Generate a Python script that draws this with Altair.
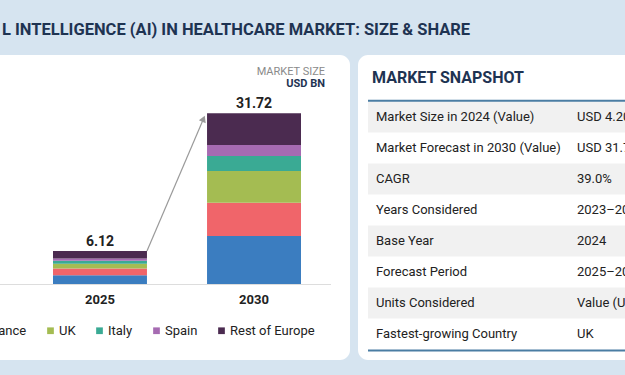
import altair as alt
import pandas as pd

# ---------------- data ----------------
years = ["2025", "2030"]
regions = ["Germany", "France", "UK", "Italy", "Spain", "Rest of Europe"]
values_2025 = [1.64, 1.25, 0.88, 0.56, 0.43, 1.36]
values_2030 = [8.92, 6.19, 5.89, 2.79, 2.04, 5.89]
totals = [6.12, 31.72]
total_labels = ["6.12", "31.72"]
colors = ["#3b7dc0", "#f0656a", "#a4bc52", "#3aaa94", "#a66bb2", "#4b2b50"]

snap_labels = [
    "Market Size in 2024 (Value)",
    "Market Forecast in 2030 (Value)",
    "CAGR",
    "Years Considered",
    "Base Year",
    "Forecast Period",
    "Units Considered",
    "Fastest-growing Country",
]
snap_values = [
    "USD 4.20 BN",
    "USD 31.72 BN",
    "39.0%",
    "2023\u20132030",
    "2024",
    "2025\u20132030",
    "Value (USD Billion)",
    "UK",
]

title_text = "L INTELLIGENCE (AI) IN HEALTHCARE MARKET: SIZE & SHARE"

# ---------------- tables ----------------
rows = []
for yi, vals in zip(years, [values_2025, values_2030]):
    for i, (r, v) in enumerate(zip(regions, vals)):
        rows.append({"year": yi, "region": r, "value": v, "idx": i})
bars_df = pd.DataFrame(rows)
tot_df = pd.DataFrame({"year": years, "total": totals, "label": total_labels})
arrow_df = pd.DataFrame({"from": [years[0]], "to": [years[1]], "v1": [totals[0]], "v2": [30.7]})
snap_df = pd.DataFrame({"label": snap_labels, "value": snap_values,
                        "shade": [i % 2 == 0 for i in range(len(snap_labels))]})
one = pd.DataFrame({"k": [0]})

FONT = "Roboto"
xs = alt.Scale(domain=years, range=[53, 301], paddingInner=0.39, paddingOuter=0)
ys = alt.Scale(domain=[0, 31.72], range=[284, 113.3])


def txt(text, x, y, size, weight="normal", color="#222222", align="left"):
    return alt.Chart(one).mark_text(
        text=text, align=align, baseline="middle", fontSize=size,
        fontWeight=weight, color=color, font=FONT
    ).encode(x=alt.value(x), y=alt.value(y))


def box(x, x2, y, y2, color, radius=0):
    return alt.Chart(one).mark_rect(color=color, cornerRadius=radius).encode(
        x=alt.value(x), x2=alt.value(x2), y=alt.value(y), y2=alt.value(y2))


def hline(x, x2, y, color, width):
    return alt.Chart(one).mark_rule(color=color, strokeWidth=width).encode(
        x=alt.value(x), x2=alt.value(x2), y=alt.value(y))


# ---------------- decorations ----------------
deco = alt.layer(
    box(-20, 350, 55, 360, "white", 10),
    box(358, 660, 55, 360, "white", 10),
    txt(title_text, 2, 30, 16.5, "bold", "#1e3352"),
    txt("MARKET SIZE", 325, 71.5, 11, "normal", "#8a8a8a", "right"),
    txt("USD BN", 325, 84, 11, "bold", "#1e3352", "right"),
    txt("MARKET SNAPSHOT", 372, 77.5, 16, "bold", "#1e3352"),
    hline(0, 331, 284.5, "#dddddd", 1),
)

# ---------------- bar chart ----------------
bars = alt.Chart(bars_df).mark_bar().encode(
    x=alt.X("year:N", scale=xs, axis=None),
    y=alt.Y("value:Q", scale=ys, axis=None, stack="zero"),
    order=alt.Order("idx:Q", sort="ascending"),
    color=alt.Color(
        "region:N",
        scale=alt.Scale(domain=regions, range=colors),
        legend=alt.Legend(
            orient="none", legendX=-112, legendY=324, direction="horizontal",
            title=None, symbolType="square", symbolSize=45, symbolStrokeWidth=0,
            labelFont=FONT, labelFontSize=13, labelColor="#222222",
            labelOffset=2, columnPadding=17, columns=6,
        ),
    ),
)

tot_text = alt.Chart(tot_df).mark_text(
    dy=-9, fontSize=14, fontWeight="bold", font=FONT, color="#222222", baseline="middle"
).encode(
    x=alt.X("year:N", scale=xs, axis=None),
    y=alt.Y("total:Q", scale=ys, axis=None),
    text="label:N",
)

year_text = alt.Chart(tot_df).mark_text(
    fontSize=13, fontWeight="bold", font=FONT, color="#222222", baseline="middle"
).encode(
    x=alt.X("year:N", scale=xs, axis=None),
    y=alt.value(300),
    text="year:N",
)

arrow_rule = alt.Chart(arrow_df).mark_rule(
    color="#9a9a9a", strokeWidth=1.2, x2Offset=-3.5
).encode(
    x=alt.X("from:N", scale=xs, axis=None, bandPosition=1),
    x2=alt.X2("to:N", bandPosition=0),
    y=alt.Y("v1:Q", scale=ys, axis=None),
    y2="v2:Q",
)

arrow_head = alt.Chart(arrow_df).mark_point(
    shape="triangle-up", filled=True, color="#9a9a9a", size=55, angle=23, opacity=1,
    xOffset=-3.5
).encode(
    x=alt.X("to:N", scale=xs, axis=None, bandPosition=0),
    y=alt.Y("v2:Q", scale=ys, axis=None),
)

bar_group = alt.layer(bars, tot_text, year_text, arrow_rule, arrow_head)

# ---------------- snapshot table ----------------
ty = alt.Scale(domain=snap_labels, range=[101.5, 349.5], paddingInner=0, paddingOuter=0)

shade = alt.Chart(snap_df).mark_rect(color="#f1f1f1").transform_filter(
    "datum.shade"
).encode(
    y=alt.Y("label:N", scale=ty, axis=None, sort=None),
    x=alt.value(368), x2=alt.value(660),
)
lab = alt.Chart(snap_df).mark_text(
    align="left", baseline="middle", fontSize=13, font=FONT, color="#222222"
).encode(
    y=alt.Y("label:N", scale=ty, axis=None, sort=None),
    x=alt.value(376), text="label:N",
)
val = alt.Chart(snap_df).mark_text(
    align="left", baseline="middle", fontSize=13, font=FONT, color="#222222"
).encode(
    y=alt.Y("label:N", scale=ty, axis=None, sort=None),
    x=alt.value(577), text="value:N",
)
table_group = alt.layer(
    shade, lab, val,
    hline(368, 660, 100.7, "#4a7da3", 2),
    hline(368, 660, 350.5, "#4a7da3", 2),
)

chart = alt.layer(deco, bar_group, table_group).resolve_scale(
    x="independent", y="independent"
).properties(
    width=625, height=375, autosize="none", padding=0
).configure(background="#d6e4f0").configure_view(stroke=None)

chart.save("out.html", embed_options={"renderer": "svg", "actions": False})
